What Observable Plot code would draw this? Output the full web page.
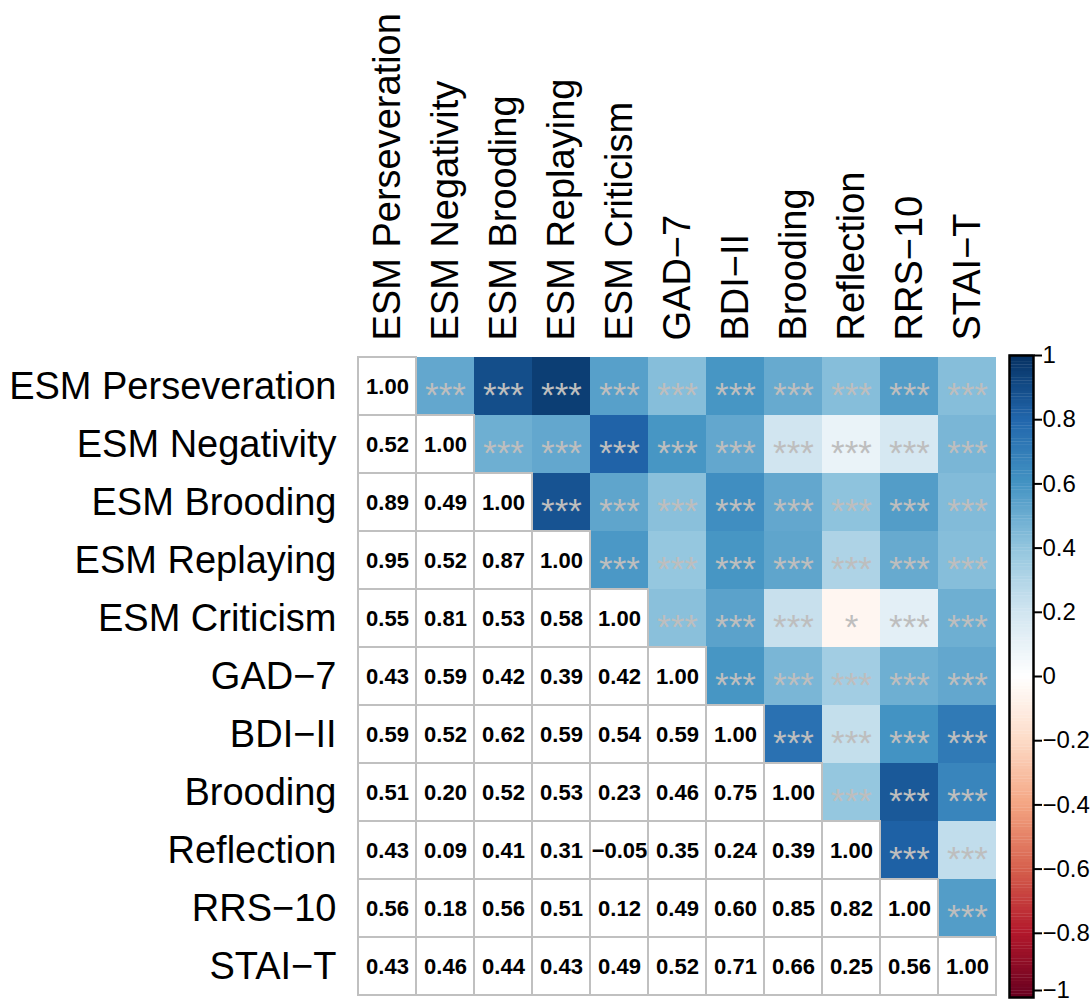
<!DOCTYPE html>
<html><head><meta charset="utf-8">
<script src="https://cdn.jsdelivr.net/npm/d3@7"></script>
<script src="https://cdn.jsdelivr.net/npm/@observablehq/plot@0.6"></script>
<style>
body{margin:0;background:#fff}
#wrap{position:relative;width:1091px;height:1005px;overflow:hidden}
#wrap svg{position:absolute;top:0}
</style>
</head><body><div id="wrap"></div>
<script>
const vars = ["ESM Perseveration","ESM Negativity","ESM Brooding","ESM Replaying","ESM Criticism","GAD\u22127","BDI\u2212II","Brooding","Reflection","RRS\u221210","STAI\u2212T"];

// lower-triangle correlations, row i holds r(vars[i], vars[j]) for j < i
const corrRows = [
  [],
  [0.52],
  [0.89, 0.49],
  [0.95, 0.52, 0.87],
  [0.55, 0.81, 0.53, 0.58],
  [0.43, 0.59, 0.42, 0.39, 0.42],
  [0.59, 0.52, 0.62, 0.59, 0.54, 0.59],
  [0.51, 0.20, 0.52, 0.53, 0.23, 0.46, 0.75],
  [0.43, 0.09, 0.41, 0.31, -0.05, 0.35, 0.24, 0.39],
  [0.56, 0.18, 0.56, 0.51, 0.12, 0.49, 0.60, 0.85, 0.82],
  [0.43, 0.46, 0.44, 0.43, 0.49, 0.52, 0.71, 0.66, 0.25, 0.56]
];

// significance stars, same layout as corrRows (drawn in the upper triangle)
const starRows = [
  [],
  ["***"],
  ["***","***"],
  ["***","***","***"],
  ["***","***","***","***"],
  ["***","***","***","***","***"],
  ["***","***","***","***","***","***"],
  ["***","***","***","***","***","***","***"],
  ["***","***","***","***","*","***","***","***"],
  ["***","***","***","***","***","***","***","***","***"],
  ["***","***","***","***","***","***","***","***","***","***"]
];

const colorRange = ["#67001F","#B2182B","#D6604D","#F4A582","#FDDBC7","#FFFFFF","#D1E5F0","#92C5DE","#4393C3","#2166AC","#053061"];
const barTicks = [-1,-0.8,-0.6,-0.4,-0.2,0,0.2,0.4,0.6,0.8,1];

const lowerCells = [], upperCells = [];
vars.forEach((v, i) => {
  lowerCells.push({x: v, y: v, r: 1});
  corrRows[i].forEach((r, j) => {
    lowerCells.push({x: vars[j], y: v, r});
    upperCells.push({x: v, y: vars[j], r, s: starRows[i][j]});
  });
});

const fmt = r => r.toFixed(2).replace("-", "\u2212");
const tickFmt = d => String(d).replace("-", "\u2212");
const font = "'Liberation Sans', Arial, Helvetica, sans-serif";
const color = {type: "linear", domain: [-1, 1], interpolate: d3.piecewise(d3.interpolateRgb, colorRange)};

const main = Plot.plot({
  width: 1091, height: 1005,
  marginLeft: 354, marginRight: 92, marginTop: 355, marginBottom: 8,
  style: {fontFamily: font, fontSize: "38px", background: "transparent", color: "black"},
  x: {domain: vars, padding: 0, axis: null},
  y: {domain: vars, padding: 0, axis: null},
  color,
  marks: [
    Plot.cell(upperCells, {x: "x", y: "y", fill: "r"}),
    Plot.cell(lowerCells, {x: "x", y: "y", fill: "white", stroke: "#c0c0c0", strokeWidth: 2}),
    Plot.text(lowerCells, {x: "x", y: "y", text: d => fmt(d.r), fontSize: 22, fontWeight: "bold", fill: "black"}),
    Plot.text(upperCells, {x: "x", y: "y", text: "s", fontSize: 35, fill: "#bebebe", dy: 9}),
    Plot.axisX({anchor: "top", tickRotate: -90, tickSize: 0, tickPadding: 15, fontSize: 38, label: null}),
    Plot.axisY({anchor: "left", tickSize: 0, tickPadding: 18, fontSize: 38, label: null})
  ]
});
main.style.left = "0px";

const steps = d3.range(0, 200).map(k => -1 + k * 0.01);
const bar = Plot.plot({
  width: 91, height: 1005,
  marginLeft: 9, marginRight: 58, marginTop: 355, marginBottom: 8,
  style: {fontFamily: font, fontSize: "24px", background: "transparent", color: "black"},
  x: {domain: [0, 1], axis: null},
  y: {domain: [-1, 1], axis: null},
  color,
  marks: [
    Plot.rect(steps, {x1: () => 0, x2: () => 1, y1: d => d, y2: d => d + 0.011, fill: d => d + 0.005}),
    Plot.frame({stroke: "black", strokeWidth: 2.5}),
    Plot.axisY(barTicks.filter(t => t > -1), {anchor: "right", tickSize: 8, tickPadding: 1, fontSize: 24, strokeWidth: 2, tickFormat: tickFmt, label: null}),
    Plot.axisY([-1], {anchor: "right", tickSize: 8, tickPadding: 1, fontSize: 24, strokeWidth: 2, tickFormat: tickFmt, dy: -7, label: null})
  ]
});
bar.style.left = "1000px";

document.getElementById("wrap").append(main, bar);
</script>
</body></html>
